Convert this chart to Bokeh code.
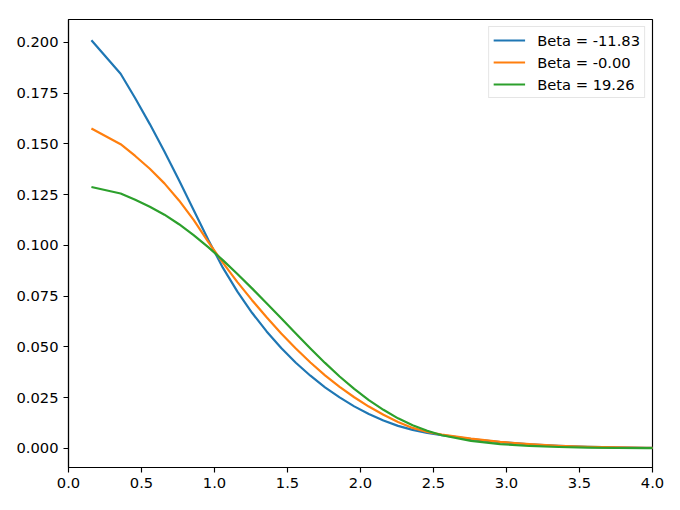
from bokeh.plotting import figure
from bokeh.models import Range1d, FixedTicker, PrintfTickFormatter, Legend, LegendItem
from bokeh.embed import file_html
from bokeh.resources import INLINE

# ---- data ----
x_vals = [0.157, 0.357, 0.457, 0.557, 0.657, 0.757, 0.857, 0.957, 1.057, 1.157,
          1.257, 1.357, 1.457, 1.557, 1.657, 1.757, 1.857, 1.957, 2.057, 2.157,
          2.257, 2.357, 2.457, 2.557, 2.757, 2.957, 3.157, 3.357, 3.557, 3.757,
          3.957, 4.157]

beta_neg = [0.2010, 0.1845, 0.1724, 0.1597, 0.1462, 0.1320, 0.1174, 0.1028, 0.0890, 0.0772,
            0.0668, 0.0576, 0.0494, 0.0422, 0.0358, 0.0301, 0.0251, 0.0207, 0.0169, 0.0137,
            0.0111, 0.0091, 0.0076, 0.0065, 0.0046, 0.0031, 0.0020, 0.0013, 0.0008, 0.0005,
            0.0003, 0.0002]
beta_zero = [0.1575, 0.1498, 0.1440, 0.1377, 0.1305, 0.1221, 0.1125, 0.1017, 0.0915, 0.0819,
             0.0730, 0.0646, 0.0566, 0.0492, 0.0423, 0.0360, 0.0303, 0.0252, 0.0206, 0.0166,
             0.0130, 0.0101, 0.0081, 0.0068, 0.0048, 0.0032, 0.0021, 0.0013, 0.0008, 0.0005,
             0.0003, 0.0002]
beta_pos = [0.1287, 0.1255, 0.1224, 0.1190, 0.1151, 0.1104, 0.1050, 0.0991, 0.0927, 0.0859,
            0.0788, 0.0715, 0.0641, 0.0566, 0.0492, 0.0421, 0.0354, 0.0293, 0.0238, 0.0190,
            0.0148, 0.0114, 0.0087, 0.0065, 0.0037, 0.0021, 0.0012, 0.0007, 0.0004, 0.0002,
            0.0001, 0.0001]

series_labels = ["Beta = -11.83", "Beta = -0.00", "Beta = 19.26"]
series_colors = ["#1f77b4", "#ff7f0e", "#2ca02c"]

x_ticks = [0.0, 0.5, 1.0, 1.5, 2.0, 2.5, 3.0, 3.5, 4.0]
y_ticks = [0.0, 0.025, 0.05, 0.075, 0.1, 0.125, 0.15, 0.175, 0.2]

FONT = "DejaVu Sans"
FSIZE = "14.7px"

p = figure(width=672, height=502, output_backend="svg", toolbar_location=None,
           x_range=Range1d(0.0, 4.0), y_range=Range1d(-0.0094, 0.2112),
           min_border_left=68, min_border_right=20, min_border_top=19, min_border_bottom=35)
p.background_fill_color = "white"
p.border_fill_color = "white"
p.outline_line_color = "black"
p.outline_line_width = 1.15
p.grid.visible = False

for ax in (p.xaxis, p.yaxis):
    ax.axis_line_color = "black"
    ax.axis_line_width = 1.15
    ax.major_tick_line_color = "black"
    ax.major_tick_line_width = 1.15
    ax.major_tick_in = 0
    ax.major_tick_out = 5
    ax.minor_tick_line_color = None
    ax.major_label_text_font = FONT
    ax.major_label_text_font_size = FSIZE
    ax.major_label_text_color = "black"
    ax.major_label_standoff = 5

p.xaxis.ticker = FixedTicker(ticks=x_ticks)
p.xaxis.formatter = PrintfTickFormatter(format="%.1f")
p.yaxis.ticker = FixedTicker(ticks=y_ticks)
p.yaxis.formatter = PrintfTickFormatter(format="%.3f")

items = []
for ys, lab, col in zip([beta_neg, beta_zero, beta_pos], series_labels, series_colors):
    r = p.line(x_vals, ys, line_color=col, line_width=2.2, line_join="round")
    items.append(LegendItem(label=lab, renderers=[r]))

legend = Legend(items=items, location="top_right")
legend.label_text_font = FONT
legend.label_text_font_size = FSIZE
legend.label_text_color = "black"
legend.border_line_color = "#cccccc"
legend.border_line_width = 1
legend.background_fill_alpha = 0.8
legend.margin = 7
legend.padding = 4
legend.spacing = 4
legend.glyph_height = 18
legend.label_height = 18
legend.glyph_width = 32
legend.label_standoff = 12
p.add_layout(legend, "center")

open("out.html", "w").write(file_html(p, INLINE))
